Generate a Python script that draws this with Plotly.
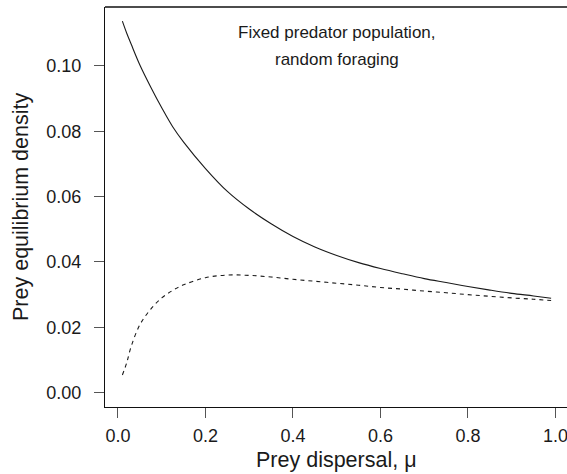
import plotly.graph_objects as go

# Prey dispersal (mu)
mu = [0.01, 0.02, 0.03, 0.05, 0.075, 0.10, 0.125, 0.15, 0.20, 0.25, 0.30, 0.35, 0.40,
      0.45, 0.50, 0.55, 0.60, 0.65, 0.70, 0.75, 0.80, 0.85, 0.90, 0.95, 0.99]

# Solid curve
solid_density = [0.1137, 0.1100, 0.1067, 0.1003, 0.0935, 0.0872, 0.0814, 0.0767, 0.0686,
                 0.0616, 0.0562, 0.0517, 0.0478, 0.0446, 0.0420, 0.0398, 0.0380, 0.0364,
                 0.0349, 0.0337, 0.0325, 0.0314, 0.0304, 0.0296, 0.0289]

# Dashed curve
dashed_density = [0.0054, 0.0092, 0.0141, 0.0208, 0.0256, 0.0290, 0.0313, 0.0330, 0.0352,
                  0.0360, 0.0359, 0.0354, 0.0347, 0.0341, 0.0335, 0.0329, 0.0322, 0.0317,
                  0.0311, 0.0306, 0.0300, 0.0295, 0.0290, 0.0286, 0.0282]

x_ticks = [0.0, 0.2, 0.4, 0.6, 0.8, 1.0]
x_tick_labels = ["0.0", "0.2", "0.4", "0.6", "0.8", "1.0"]
y_ticks = [0.00, 0.02, 0.04, 0.06, 0.08, 0.10]
y_tick_labels = ["0.00", "0.02", "0.04", "0.06", "0.08", "0.10"]

FONT = "Liberation Sans, Arial, Helvetica, sans-serif"
TXT = "#1a1a1a"

fig = go.Figure()
fig.add_trace(go.Scatter(x=mu, y=solid_density, mode="lines", line_shape="spline",
                         line=dict(color="#1a1a1a", width=1.1), showlegend=False))
fig.add_trace(go.Scatter(x=mu, y=dashed_density, mode="lines", line_shape="spline",
                         line=dict(color="#1a1a1a", width=1.1, dash="4px,4px"), showlegend=False))

plot_top, plot_bottom, plot_left, plot_right = 7, 407, 105, 567

fig.update_layout(
    width=567, height=474,
    margin=dict(l=plot_left, r=567 - plot_right, t=plot_top, b=474 - plot_bottom, pad=0),
    paper_bgcolor="white", plot_bgcolor="white",
    font=dict(family=FONT, color=TXT, size=18),
    showlegend=False,
    xaxis=dict(range=[-0.0297, 1.0263], tickvals=x_ticks, ticktext=x_tick_labels,
               showgrid=False, zeroline=False, showline=True, linecolor="#111", linewidth=1.3,
               ticks="outside", ticklen=10, tickwidth=1.2, tickcolor="#555",
               tickfont=dict(size=18, family=FONT, color=TXT), automargin=False,
               ticklabelstandoff=2, ticklabeloverflow="allow"),
    yaxis=dict(range=[-0.00438, 0.11804], tickvals=y_ticks, ticktext=y_tick_labels,
               showgrid=False, zeroline=False, showline=True, linecolor="#111", linewidth=1.3,
               ticks="outside", ticklen=10, tickwidth=1.2, tickcolor="#555",
               tickfont=dict(size=18, family=FONT, color=TXT), automargin=False,
               ticklabelstandoff=9, ticklabeloverflow="allow"),
)

# top border of the plot box (right side lies outside the picture)
fig.add_shape(type="line", xref="paper", yref="paper", x0=0, x1=1, y0=1, y1=1,
              line=dict(color="#111", width=1.3))

def py(p):
    return (plot_bottom - p) / (plot_bottom - plot_top)
def px(p):
    return (p - plot_left) / (plot_right - plot_left)

fig.add_annotation(text="Fixed predator population,", x=0.5, xref="x", y=py(33), yref="paper",
                   showarrow=False, font=dict(size=17, family=FONT, color=TXT),
                   xanchor="center", yanchor="middle")
fig.add_annotation(text="random foraging", x=0.5, xref="x", y=py(59), yref="paper",
                   showarrow=False, font=dict(size=17, family=FONT, color=TXT),
                   xanchor="center", yanchor="middle")
fig.add_annotation(text="Prey dispersal, μ", x=0.5, xref="x", y=py(460), yref="paper",
                   showarrow=False, font=dict(size=21.5, family=FONT, color=TXT),
                   xanchor="center", yanchor="middle")
fig.add_annotation(text="Prey equilibrium density", x=px(21), xref="paper", y=py(207), yref="paper",
                   showarrow=False, textangle=-90, font=dict(size=21.5, family=FONT, color=TXT),
                   xanchor="center", yanchor="middle")

fig.write_html("out.html", config={"displayModeBar": False},
               post_script="document.body.style.margin='0';document.body.style.overflow='hidden';")
